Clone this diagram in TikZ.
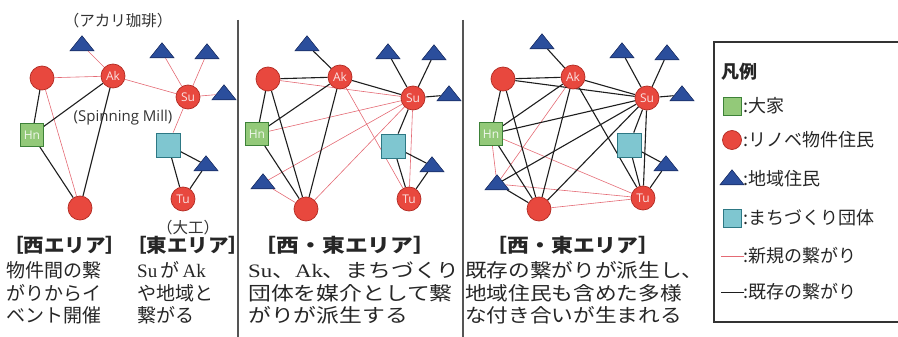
\documentclass[tikz,border=0pt]{standalone}
\usepackage{fontspec}
\setmainfont{Noto Sans CJK JP}
\newfontfamily\jp{Noto Sans CJK JP}
\newfontfamily\lab{Open Sans}
\newfontfamily\ser{Liberation Serif}
\usetikzlibrary{shapes.geometric,backgrounds}
\definecolor{resred}{HTML}{E8483E}
\definecolor{resdark}{HTML}{B22A22}
\definecolor{triblue}{HTML}{2B4E9C}
\definecolor{tridark}{HTML}{1B2F66}
\definecolor{hngreen}{HTML}{93C979}
\definecolor{hndark}{HTML}{3D8238}
\definecolor{cyfill}{HTML}{7FC6D0}
\definecolor{cydark}{HTML}{2D7884}
\definecolor{newred}{HTML}{E46A74}
\definecolor{oldblk}{HTML}{1E1E1E}
\definecolor{sepgray}{HTML}{555555}
\tikzset{
  res/.style={circle,fill=resred,draw=resdark,line width=0.7pt,minimum size=24pt,inner sep=0pt,text=white!85!resred,font=\lab\fontsize{12}{12}\selectfont},
  tri/.style={isosceles triangle,isosceles triangle apex angle=80,shape border rotate=90,isosceles triangle stretches,minimum width=24pt,minimum height=15pt,inner sep=0pt,fill=triblue,draw=tridark,line width=0.6pt},
  hn/.style={rectangle,minimum size=23pt,inner sep=0pt,fill=hngreen,draw=hndark,line width=0.8pt,text=white!85!hngreen,font=\lab\fontsize{12}{12}\selectfont},
  cy/.style={rectangle,minimum size=24pt,inner sep=0pt,fill=cyfill,draw=cydark,line width=0.8pt},
  newl/.style={draw=newred,line width=0.6pt},
  oldl/.style={draw=oldblk,line width=1.1pt},
  annot/.style={inner sep=0pt,font=\lab\fontsize{15}{15}\selectfont,text=black!80},
  annotjp/.style={inner sep=0pt,font=\jp\fontsize{15.5}{15.5}\selectfont,text=black!80},
  bodytxt/.style={anchor=base west,inner sep=0pt,font=\jp\fontsize{19}{22}\selectfont,text=black!85},
  headtxt/.style={anchor=base,inner sep=0pt,font=\jp\bfseries\fontsize{19}{22}\selectfont,text=black!85},
  legtxt/.style={anchor=west,inner sep=0pt,font=\jp\fontsize{18}{18}\selectfont,text=black!85},
}
\begin{document}
\begin{tikzpicture}[x=1pt,y=-1pt]
\useasboundingbox (0,0) rectangle (898,337);
% separators
\draw[sepgray,line width=1.4pt] (238,20) -- (238,337);
\draw[sepgray,line width=1.4pt] (463,20) -- (463,337);

% ---------- panel 1 ----------
\node[tri] (aT0) at (82,45) {};
\node[res] (aUL) at (42,78) {};
\node[res] (aAk) at (113,76) {Ak};
\node[res] (aSu) at (188,97) {Su};
\node[tri] (aT1) at (162,52) {};
\node[tri] (aT2) at (207,53) {};
\node[tri] (aT3) at (224,94) {};
\node[hn] (aHn) at (32,135) {Hn};
\node[cy] (aCy) at (168,145) {};
\node[tri] (aT4) at (206,165) {};
\node[res] (aTu) at (183,199) {Tu};
\node[res] (aBo) at (80,208) {};
\node[annotjp] (lAkari) at (118,21) {（アカリ珈琲）};
\node[annot] (lMill) at (123,118) {(Spinning Mill)};
\node[annotjp] (lDaiku) at (188,228) {（大工）};

% ---------- panel 2 ----------
\node[tri] (bT0) at (307,45) {};
\node[res] (bUL) at (268,79) {};
\node[res] (bAk) at (340,77) {Ak};
\node[res] (bSu) at (413,98) {Su};
\node[tri] (bT1) at (388,53) {};
\node[tri] (bT2) at (434,54) {};
\node[tri] (bT3) at (449,95) {};
\node[hn] (bHn) at (257,134) {Hn};
\node[cy] (bCy) at (393,146) {};
\node[tri] (bT4) at (432,166) {};
\node[tri] (bT5) at (263,183) {};
\node[res] (bBo) at (306,209) {};
\node[res] (bTu) at (409,199) {Tu};

% ---------- panel 3 ----------
\node[tri] (cT0) at (542,43) {};
\node[res] (cUL) at (503,79) {};
\node[res] (cAk) at (573,77) {Ak};
\node[res] (cSu) at (647,98) {Su};
\node[tri] (cT1) at (622,52) {};
\node[tri] (cT2) at (667,54) {};
\node[tri] (cT3) at (682,95) {};
\node[hn] (cHn) at (491,134) {Hn};
\node[cy] (cCy) at (629,145) {};
\node[tri] (cT4) at (666,165) {};
\node[tri] (cT5) at (497,184) {};
\node[res] (cBo) at (539,209) {};
\node[res] (cTu) at (643,198) {Tu};

\begin{scope}[on background layer]
\foreach \u/\v in {aUL/aAk,aAk/aT0,aAk/aSu,aSu/aT1,aSu/aT2,aSu/aT3,aSu/aCy,aUL/aBo,
  bUL/bSu,bHn/bSu,bAk/bTu,bSu/bT5,bSu/bBo,bSu/bTu,bT5/bBo,
  cHn/cTu,cHn/cT5,cAk/cT5,cT5/cTu,cBo/cTu}
  \draw[newl] (\u) -- (\v);
\foreach \u/\v in {aUL/aHn,aHn/aAk,aHn/aBo,aAk/aBo,aCy/aT4,aCy/aTu,aT4/aTu,
  bT0/bAk,bUL/bAk,bAk/bSu,bSu/bT1,bSu/bT2,bSu/bT3,bUL/bHn,bUL/bBo,bHn/bAk,bHn/bBo,bAk/bBo,bSu/bCy,bCy/bTu,bCy/bT4,bT4/bTu,
  cT0/cAk,cUL/cAk,cUL/cSu,cAk/cSu,cSu/cT1,cSu/cT2,cSu/cT3,cUL/cHn,cUL/cBo,cHn/cAk,cHn/cSu,cHn/cBo,cAk/cBo,cAk/cTu,cSu/cT5,cSu/cBo,cSu/cCy,cSu/cTu,cCy/cTu,cCy/cT4,cT4/cTu,cT5/cBo}
  \draw[oldl] (\u) -- (\v);
\end{scope}

% ---------- bottom texts ----------
\node[headtxt,anchor=base west] (h1) at (3,252) {\scalebox{1.08}[1]{［西エリア］［東エリア］}};
\node[bodytxt] (p1a) at (6,277) {物件間の繋};
\node[bodytxt] (p1b) at (6,300) {がりからイ};
\node[bodytxt] (p1c) at (6,322) {ベント開催};
\node[bodytxt] (p2a) at (137,277) {{\ser Su}\,が\,{\ser Ak}};
\node[bodytxt] (p2b) at (137,300) {や地域と};
\node[bodytxt] (p2c) at (137,322) {繋がる};

\node[headtxt] (h2) at (345,252) {\scalebox{1.2}[1]{［西・東エリア］}};
\node[bodytxt] (q1) at (248,277) {\scalebox{1.2}[1]{{\ser Su}、{\ser Ak}、まちづくり}};
\node[bodytxt] (q2) at (248,300) {\scalebox{1.2}[1]{団体を媒介として繋}};
\node[bodytxt] (q3) at (248,322) {\scalebox{1.2}[1]{がりが派生する}};

\node[headtxt] (h3) at (573,252) {\scalebox{1.15}[1]{［西・東エリア］}};
\node[bodytxt] (r1) at (465,277) {\scalebox{1.14}[1]{既存の繋がりが派生し、}};
\node[bodytxt] (r2) at (465,300) {\scalebox{1.14}[1]{地域住民も含めた多様}};
\node[bodytxt] (r3) at (465,322) {\scalebox{1.14}[1]{な付き合いが生まれる}};

% ---------- legend ----------
\draw[black!80,line width=1.2pt] (905,42) -- (714,42) -- (714,322) -- (905,322);
\node[legtxt,font=\jp\bfseries\fontsize{18}{18}\selectfont] (lgT) at (721,72) {凡例};
\node[hn,minimum size=18pt] (lg1) at (732,106) {};
\node[legtxt] (lg1t) at (743,106) {:大家};
\node[res,minimum size=19pt] (lg2) at (732,140) {};
\node[legtxt] (lg2t) at (743,140) {:リノベ物件住民};
\node[tri,minimum width=24pt,minimum height=15pt] (lg3) at (732,179) {};
\node[legtxt] (lg3t) at (743,179) {:地域住民};
\node[cy,minimum size=18pt] (lg4) at (732,218) {};
\node[legtxt] (lg4t) at (743,218) {:まちづくり団体};
\coordinate (lg5a) at (721,256);
\coordinate (lg5b) at (744,256);
\draw[newl] (lg5a) -- (lg5b);
\node[legtxt] (lg5t) at (743,256) {:新規の繋がり};
\coordinate (lg6a) at (721,292);
\coordinate (lg6b) at (744,292);
\draw[oldl,line width=0.8pt] (lg6a) -- (lg6b);
\node[legtxt] (lg6t) at (743,292) {:既存の繋がり};
\end{tikzpicture}
\end{document}
